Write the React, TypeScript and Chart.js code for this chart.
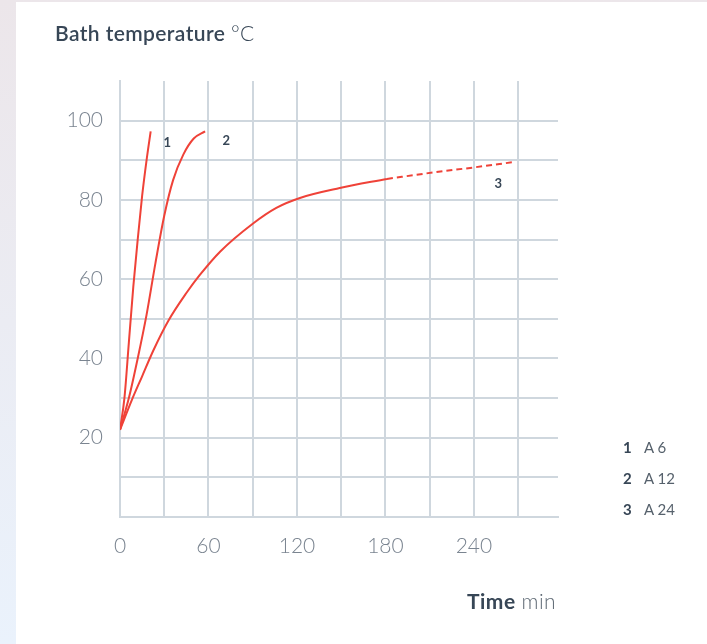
import React, { useEffect, useRef } from "react";
import { Chart, registerables } from "chart.js";

Chart.register(...registerables);

// ---- data (minutes, °C) ----
const a6Time = [0, 3, 6, 9, 12, 15, 18, 20.8];
const a6Temp = [22, 30, 44, 58, 70, 81, 90, 97.3];

const a12Time = [0, 6, 12, 18, 24, 30, 36, 43, 50, 57.7];
const a12Temp = [22, 30, 40, 51, 64, 76, 85, 91.5, 95.5, 97.3];

const a24Time = [0, 8, 15, 22.6, 32.8, 45, 54, 68, 90, 106, 122, 149, 181];
const a24Temp = [22, 29.5, 35.5, 42, 49.5, 56.5, 61, 67, 74, 78, 80.5, 83, 85.3];

const a24ExtTime = [181, 212, 240, 266];
const a24ExtTemp = [85.3, 86.9, 88.2, 89.5];

const xTickValues = [0, 30, 60, 90, 120, 150, 180, 210, 240, 270];
const xLabelValues = [0, 60, 120, 180, 240];
const yTickValues = [0, 10, 20, 30, 40, 50, 60, 70, 80, 90, 100];
const yLabelValues = [20, 40, 60, 80, 100];

const curveLabels = ["1", "2", "3"];
const curveLabelTime = [32, 72, 256.5];
const curveLabelTemp = [94.5, 95, 84];

const legendNumbers = ["1", "2", "3"];
const legendModels = ["A 6", "A 12", "A 24"];

const RED = "#ef4238";
const GRID = "#cfd7de";
const DARK = "#374656";
const TICK = "#7a8490";

const pts = (xs: number[], ys: number[]) => xs.map((x, i) => ({ x, y: ys[i] }));

const curveLabelPlugin = {
  id: "curveLabels",
  afterDatasetsDraw(chart: any) {
    const { ctx, scales } = chart;
    ctx.save();
    ctx.font = "bold 13px Lato";
    ctx.fillStyle = DARK;
    ctx.textAlign = "center";
    ctx.textBaseline = "middle";
    curveLabels.forEach((t, i) => {
      ctx.fillText(
        t,
        scales.x.getPixelForValue(curveLabelTime[i]),
        scales.y.getPixelForValue(curveLabelTemp[i])
      );
    });
    ctx.restore();
  },
};

export default function App() {
  const ref = useRef<HTMLCanvasElement>(null);

  useEffect(() => {
    if (!ref.current) return;
    const lineStyle = {
      borderColor: RED,
      borderWidth: 2,
      pointRadius: 0,
      fill: false,
      cubicInterpolationMode: "monotone" as const,
    };
    const chart = new Chart(ref.current, {
      type: "line",
      data: {
        datasets: [
          { ...lineStyle, label: "A 6", data: pts(a6Time, a6Temp) },
          { ...lineStyle, label: "A 12", data: pts(a12Time, a12Temp) },
          { ...lineStyle, label: "A 24", data: pts(a24Time, a24Temp) },
          {
            ...lineStyle,
            label: "A 24 ext",
            data: pts(a24ExtTime, a24ExtTemp),
            borderDash: [6, 4],
          },
        ],
      },
      options: {
        animation: false,
        responsive: false,
        maintainAspectRatio: false,
        layout: { padding: { left: 0, right: 149, top: 81, bottom: 0 } },
        plugins: {
          legend: { display: false },
          tooltip: { enabled: false },
          title: { display: false },
        },
        scales: {
          x: {
            type: "linear",
            min: 0,
            max: 297,
            afterBuildTicks: (s: any) => {
              s.ticks = xTickValues.map((v) => ({ value: v }));
            },
            afterFit: (s: any) => {
              s.height = 127;
            },
            grid: { color: GRID, lineWidth: 2, drawTicks: false },
            border: { display: true, color: GRID, width: 2 },
            ticks: {
              padding: 17,
              color: TICK,
              font: { family: "Lato", size: 21, weight: 300 as any },
              maxRotation: 0,
              autoSkip: false,
              callback: (v: any) => (xLabelValues.includes(Number(v)) ? String(v) : ""),
            },
          },
          y: {
            type: "linear",
            min: 0,
            max: 110,
            afterBuildTicks: (s: any) => {
              s.ticks = yTickValues.map((v) => ({ value: v }));
            },
            afterFit: (s: any) => {
              s.width = 120;
            },
            grid: { color: GRID, lineWidth: 2, drawTicks: false },
            border: { display: true, color: GRID, width: 2 },
            ticks: {
              padding: 17,
              color: TICK,
              font: { family: "Lato", size: 21, weight: 300 as any },
              autoSkip: false,
              callback: (v: any) => (yLabelValues.includes(Number(v)) ? String(v) : ""),
            },
          },
        },
      },
      plugins: [curveLabelPlugin],
    });
    return () => chart.destroy();
  }, []);

  return (
    <div
      style={{
        position: "absolute",
        left: 0,
        top: 0,
        width: 707,
        height: 644,
        overflow: "hidden",
        background: "linear-gradient(#ece6ea, #eaf2fc)",
        fontFamily: "Lato, sans-serif",
      }}
    >
      <div
        style={{
          position: "absolute",
          left: 16,
          top: 2,
          right: 0,
          bottom: 0,
          background: "#ffffff",
        }}
      />
      <canvas
        ref={ref}
        width={707}
        height={644}
        style={{ position: "absolute", left: 0, top: 0, width: 707, height: 644 }}
      />
      <div
        style={{
          position: "absolute",
          left: 55,
          top: 22,
          fontSize: 21,
          lineHeight: "21px",
          letterSpacing: "0.4px",
          color: DARK,
          whiteSpace: "nowrap",
        }}
      >
        <span style={{ fontWeight: 600 }}>Bath temperature</span>{" "}
        <span style={{ fontWeight: 300 }}>°C</span>
      </div>
      <div
        style={{
          position: "absolute",
          left: 467,
          top: 590,
          fontSize: 21,
          lineHeight: "21px",
          letterSpacing: "0.5px",
          color: DARK,
          whiteSpace: "nowrap",
        }}
      >
        <span style={{ fontWeight: 700 }}>Time</span>{" "}
        <span style={{ fontWeight: 300, color: "#5d6873" }}>min</span>
      </div>
      {legendNumbers.map((n, i) => (
        <div
          key={n}
          style={{
            position: "absolute",
            left: 623,
            top: 440 + i * 31,
            fontSize: 15,
            lineHeight: "15px",
            color: DARK,
            whiteSpace: "nowrap",
          }}
        >
          <span style={{ fontWeight: 700, display: "inline-block", width: 21 }}>{n}</span>
          <span style={{ fontWeight: 400, color: "#56616c" }}>{legendModels[i]}</span>
        </div>
      ))}
    </div>
  );
}
